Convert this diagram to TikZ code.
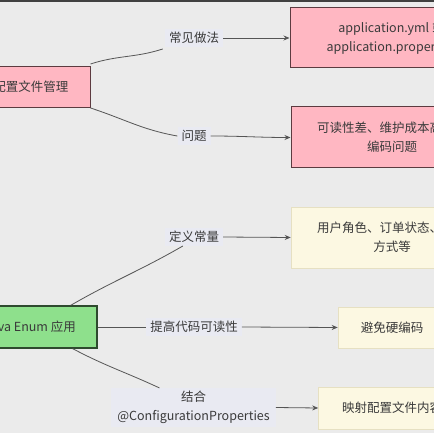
\documentclass[tikz,border=0pt]{standalone}
\usepackage{fontspec}
\setmainfont{Noto Sans CJK SC}
\usetikzlibrary{arrows.meta}
\definecolor{bg}{HTML}{EBEBEB}
\definecolor{pinkfill}{HTML}{FFB7C2}
\definecolor{pinkline}{HTML}{5C3B40}
\definecolor{greenfill}{HTML}{8EE08C}
\definecolor{greenline}{HTML}{2E4A2E}
\definecolor{creamfill}{HTML}{FCF8E2}
\definecolor{creamline}{HTML}{E6E0C2}
\definecolor{lblfill}{HTML}{E9EAF2}
\definecolor{txt}{HTML}{3A3A3A}
\definecolor{edgecol}{HTML}{555555}
\tikzset{
  base/.style={font=\fontsize{12.5}{19}\selectfont, text=txt, align=center, inner sep=0pt},
  pinkbox/.style={base, draw=pinkline, fill=pinkfill, line width=1pt},
  greenbox/.style={base, draw=greenline, fill=greenfill, line width=1.2pt},
  creambox/.style={base, draw=creamline, fill=creamfill, line width=0.6pt},
  lbl/.style={base, fill=lblfill, inner xsep=4pt, inner ysep=3pt},
  edge/.style={draw=edgecol, line width=0.8pt},
  arr/.style={edge, -{Stealth[length=6pt,width=5pt]}}
}
\begin{document}
\begin{tikzpicture}[x=1pt,y=-1pt]
\useasboundingbox (0,0) rectangle (434,433);
\clip (0,0) rectangle (434,433);
\fill[bg] (0,0) rectangle (434,433);
\fill[black!75] (0,0) rectangle (434,1.6);

% main nodes
\node[pinkbox, minimum width=118pt, minimum height=41pt] (cfg) at (31,87) {配置文件管理};
\node[pinkbox, minimum width=203pt, minimum height=60pt] (app) at (391.5,38) {application.yml 或\\application.properties};
\node[pinkbox, minimum width=202pt, minimum height=61pt] (prob) at (392,137.5) {可读性差、维护成本高、硬\\编码问题};

\node[greenbox, minimum width=134pt, minimum height=42pt] (enum) at (30,327) {Java Enum 应用};
\node[creambox, minimum width=202pt, minimum height=61pt] (role) at (392,237.5) {用户角色、订单状态、支付\\方式等};
\node[creambox, minimum width=108pt, minimum height=41pt] (avoid) at (392,327.5) {避免硬编码};
\node[creambox, minimum width=147pt, minimum height=42pt] (map) at (392,408) {映射配置文件内容};

% edge labels
\node[lbl] (l1) at (194,38) {常见做法};
\node[lbl] (l2) at (194,136) {问题};
\node[lbl] (l3) at (194,237) {定义常量};
\node[lbl] (l4) at (194,327) {提高代码可读性};
\node[lbl, inner xsep=6pt, minimum width=157pt, minimum height=35pt] (l5) at (193.5,407.5) {结合\\@ConfigurationProperties};

% connectors
\draw[edge] ([yshift=2]cfg.north east) to[out=18,in=198] ([xshift=-2,yshift=-2]l1.south west);
\draw[arr] (l1.east) -- (app.west);
\draw[edge] (cfg.south east) to[out=-18,in=170] (l2.west);
\draw[arr] (l2.east) to[out=0,in=180] (prob.west);

\draw[edge] ([xshift=-27]enum.north east) to[out=30,in=210] ([xshift=18]l3.south west);
\draw[arr] (l3.east) -- (role.west);
\draw[edge] (enum.east) -- (l4.west);
\draw[arr] (l4.east) -- (avoid.west);
\draw[edge] ([xshift=-25]enum.south east) to[out=-28,in=155] ([xshift=-34]l5.north);
\draw[arr] (l5.east) -- (map.west);
\end{tikzpicture}
\end{document}
